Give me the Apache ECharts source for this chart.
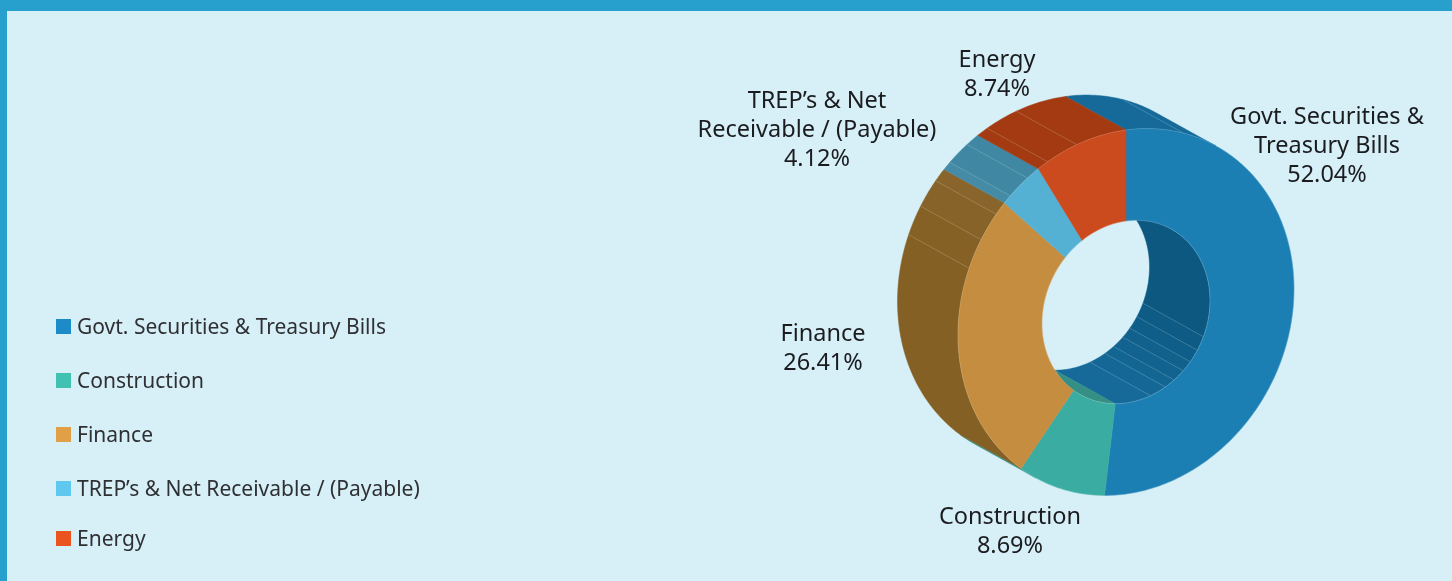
<!DOCTYPE html>
<html>
<head>
<meta charset="utf-8">
<title>Portfolio allocation</title>
<script src="https://cdn.jsdelivr.net/npm/echarts@6/dist/echarts.min.js"></script>
<style>
    html, body { margin: 0; padding: 0; background: #d7f0f8; overflow: hidden; }
    .frame-top { position: absolute; left: 0; top: 0; width: 1452px; height: 11px; background: #27a0ce; }
    .frame-left { position: absolute; left: 0; top: 0; width: 7px; height: 581px; background: #27a0ce; }
    #chart { position: absolute; left: 0; top: 0; width: 1452px; height: 581px; }
</style>
</head>
<body>
<div class="frame-top"></div>
<div class="frame-left"></div>
<div id="chart"></div>
<script>
const categories = ['Govt. Securities & Treasury Bills', 'Construction', 'Finance', "TREP\u2019s & Net Receivable / (Payable)", 'Energy']
const values = [52.04, 8.69, 26.41, 4.12, 8.74]
const labelLines = [['Govt. Securities &', 'Treasury Bills'], ['Construction'], ['Finance'], ['TREP\u2019s & Net', 'Receivable / (Payable)'], ['Energy']]

const legendColors = ['#1e8bc9', '#41c1b2', '#e0a045', '#5fc8ee', '#e95420']
const faceColors = ['#1c7fb3', '#3aaca1', '#c48d3f', '#55b1d4', '#cb4b1e']
const wallColors = ['#166a99', '#358f85', '#856025', '#3f87a3', '#a33a11']
const innerDark = ['#0c5880', '#358f85', '#856025', '#3f87a3', '#a33a11']

// label centres
const labelPos = [[1327, 146], [1010, 532], [823, 349], [817, 130], [997, 74.5]]

// the tilted ring: centre, two semi axes of the front ellipse, depth vector
const C = [1126, 312]
const A = [168, -23]
const B = [0, -182]
const E = [-60.5, -33.5]
const HOLE = 0.5
const WALL_FROM = 212.4 // outer wall shows from here round to 392.4, inner wall the other half

// where the facets of the curved walls break, in degrees from the top
const outerBreaks = [291, 300.4, 309.4, 316.5, 324.1, 332.2, 343, 380]
const innerBreaks = [112.8, 121.8, 130, 137, 145, 152, 163]

let cum = 0
const spans = values.map((v) => {
    const s = cum
    cum += v
    return [s * 3.6, cum * 3.6]
})

function rim (deg, r, back) {
    const t = deg * Math.PI / 180
    const x = C[0] + r * (Math.sin(t) * A[0] + Math.cos(t) * B[0]) + (back ? E[0] : 0)
    const y = C[1] + r * (Math.sin(t) * A[1] + Math.cos(t) * B[1]) + (back ? E[1] : 0)
    return [x, y]
}

function arc (from, to, r, back) {
    const pts = []
    const n = Math.max(1, Math.ceil(Math.abs(to - from)))
    for (let i = 0; i <= n; i++) {
        pts.push(rim(from + (to - from) * i / n, r, back))
    }
    return pts
}

function rgb (hex) {
    const n = parseInt(hex.slice(1), 16)
    return [n >> 16, (n >> 8) & 255, n & 255]
}

function blend (hexA, hexB, k) {
    const a = rgb(hexA)
    const b = rgb(hexB)
    return 'rgb(' + a.map((v, i) => Math.round(v + (b[i] - v) * k)).join(',') + ')'
}

function clamp (v) {
    return Math.max(0, Math.min(1, v))
}

function wallPolys (s, e, r, lo, hi, breaks, shade) {
    const out = []
    const from = Math.max(s, lo)
    const to = Math.min(e, hi)
    if (to <= from) return out
    const edges = [from]
    for (const b of breaks) {
        if (b > from && b < to) edges.push(b)
    }
    edges.push(to)
    for (let i = 0; i < edges.length - 1; i++) {
        const a = edges[i]
        const b = edges[i + 1]
        const color = shade((a + b) / 2)
        out.push({
            type: 'polygon',
            z2: r === 1 ? 2 : 1,
            shape: { points: arc(a, b, r, false).concat(arc(b, a, r, true)) },
            style: { fill: color, stroke: color, lineWidth: 0.5 }
        })
    }
    for (const b of breaks) {
        if (b > from && b < to) {
            const p = rim(b, r, false)
            const q = rim(b, r, true)
            out.push({
                type: 'line',
                z2: r === 1 ? 2 : 1,
                shape: { x1: p[0], y1: p[1], x2: q[0], y2: q[1] },
                style: { stroke: 'rgba(255,255,255,0.18)', lineWidth: 0.7 }
            })
        }
    }
    return out
}

function renderSlice (params, api) {
    const idx = params.seriesIndex
    const s = api.value(0)
    const e = api.value(1)
    const children = []

    // outer wall wraps past 360, so try the slice at both turns
    const outerShade = (d) => blend(wallColors[idx], '#ffffff', (d > 291 && d < 316) ? 0.035 * (d - 291) / 25 : 0)
    children.push(...wallPolys(s, e, 1, WALL_FROM, 360, outerBreaks, outerShade))
    children.push(...wallPolys(s + 360, e + 360, 1, 360, WALL_FROM + 180, outerBreaks, outerShade))

    const innerShade = (d) => blend(innerDark[idx], wallColors[idx], clamp((d - 105) / 60))
    children.push(...wallPolys(s, e, HOLE, WALL_FROM - 180, WALL_FROM, innerBreaks, innerShade))

    children.push({
        type: 'polygon',
        z2: 3,
        shape: { points: arc(s, e, 1, false).concat(arc(e, s, HOLE, false)) },
        style: { fill: faceColors[idx], stroke: faceColors[idx], lineWidth: 0.5 }
    })
    // thin light edge along both rims of the front face
    children.push({
        type: 'polyline',
        z2: 3,
        shape: { points: arc(s, e, 1, false) },
        style: { fill: null, stroke: 'rgba(255,255,255,0.22)', lineWidth: 0.6 }
    })
    children.push({
        type: 'polyline',
        z2: 3,
        shape: { points: arc(s, e, HOLE, false) },
        style: { fill: null, stroke: 'rgba(255,255,255,0.3)', lineWidth: 0.6 }
    })

    const text = labelLines[idx].concat(values[idx].toFixed(2) + '%').join('\n')
    children.push({
        type: 'text',
        z2: 4,
        style: {
            text: text,
            x: labelPos[idx][0],
            y: labelPos[idx][1],
            fill: '#1b1c1f',
            font: '23.5px "Noto Sans"',
            align: 'center',
            verticalAlign: 'middle',
            lineHeight: 29
        }
    })
    return { type: 'group', children: children }
}

const legendText = {
    rich: {
        t: { color: '#2f3033', fontSize: 21, fontFamily: 'Noto Sans', padding: [4, 0, 0, 1] }
    }
}
const legendFormat = (name) => '{t|' + name + '}'

const chart = echarts.init(document.getElementById('chart'))
chart.setOption({
    animation: false,
    backgroundColor: 'transparent',
    legend: [
        {
            orient: 'vertical',
            left: 56,
            top: 318,
            icon: 'rect',
            itemWidth: 15,
            itemHeight: 15,
            itemGap: 33,
            padding: 0,
            selectedMode: false,
            formatter: legendFormat,
            textStyle: legendText,
            data: categories.slice(0, 4)
        },
        {
            orient: 'vertical',
            left: 56,
            top: 530,
            icon: 'rect',
            itemWidth: 15,
            itemHeight: 15,
            padding: 0,
            selectedMode: false,
            formatter: legendFormat,
            textStyle: legendText,
            data: categories.slice(4)
        }
    ],
    series: categories.map((name, i) => ({
        name: name,
        type: 'custom',
        coordinateSystem: 'none',
        silent: true,
        itemStyle: { color: legendColors[i] },
        renderItem: renderSlice,
        data: [spans[i]]
    }))
})
</script>
</body>
</html>
